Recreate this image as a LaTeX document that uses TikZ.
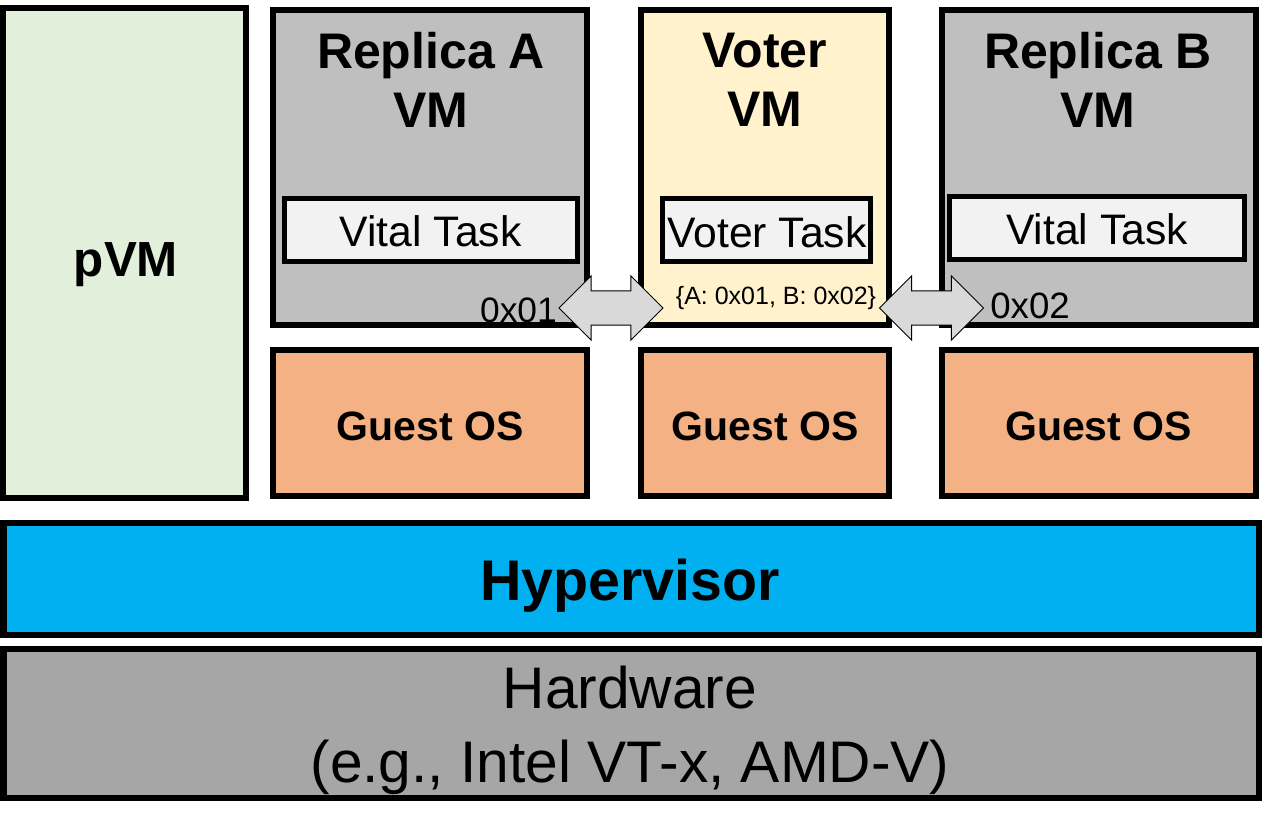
\documentclass[tikz,border=0pt]{standalone}
\usepackage{fontspec}
\setmainfont{Liberation Sans}
\usetikzlibrary{shapes.arrows}
\definecolor{pvmfill}{HTML}{E2EFDA}
\definecolor{vmfill}{HTML}{BFBFBF}
\definecolor{taskfill}{HTML}{F2F2F2}
\definecolor{voterfill}{HTML}{FFF2CC}
\definecolor{osfill}{HTML}{F4B183}
\definecolor{hvfill}{HTML}{00B0F0}
\definecolor{hwfill}{HTML}{A6A6A6}
\definecolor{arrowfill}{HTML}{D9D9D9}
\newcommand{\fs}[1]{\fontsize{#1}{1.2\dimexpr#1\relax}\selectfont}

\begin{document}
\begin{tikzpicture}[x=0.75pt, y=-0.75pt,
  layer/.style={draw, line width=4.5pt, inner sep=0pt},
  vmbox/.style={layer, fill=vmfill, minimum width=235.5pt, minimum height=236.25pt},
  osbox/.style={layer, fill=osfill, minimum height=109.5pt},
  taskbox/.style={layer, line width=3.75pt, fill=taskfill, minimum height=47.25pt},
  title/.style={align=center, font=\fontsize{37.5pt}{44pt}\selectfont\bfseries},
  tasktext/.style={anchor=base, font=\fs{32pt}},
  ostext/.style={anchor=base, font=\fs{30.75pt}\bfseries},
  link/.style={double arrow, draw, line width=0.75pt, fill=arrowfill, inner xsep=0pt,
    inner ysep=12.4pt, minimum height=78pt, double arrow head extend=11.25pt}
]
  \useasboundingbox (0,0) rectangle (1262,829);

  % Privileged VM
  \node[layer, fill=pvmfill, minimum width=181.9pt, minimum height=367.5pt] (pvm) at (124.75,253) {};
  \node[anchor=base, font=\fs{37pt}\bfseries] (pvmlbl) at (126,276) {pVM};

  % Guest VMs
  \node[vmbox] (repa) at (430,167.5) {};
  \node[vmbox, fill=voterfill, minimum width=186pt] (voter) at (765,167.5) {};
  \node[vmbox] (repb) at (1098.5,167.5) {};
  \node[title] (repalbl) at (431,80) {Replica A\\VM};
  \node[title] (voterlbl) at (765,80) {Voter\\VM};
  \node[title] (repblbl) at (1098,80) {Replica B\\VM};

  % Tasks
  \node[taskbox, minimum width=219.75pt] (taska) at (430.5,229.5) {};
  \node[taskbox, minimum width=156pt] (taskv) at (766,229.5) {};
  \node[taskbox, minimum width=221.25pt] (taskb) at (1096.5,227.5) {};
  \node[tasktext] at (430.5,246) {Vital Task};
  \node[tasktext] at (767,247) {Voter Task};
  \node[tasktext] at (1097,244) {Vital Task};

  % Guest OS
  \node[osbox, minimum width=235.5pt] (osa) at (430,423) {};
  \node[osbox, minimum width=186pt] (osv) at (765,423) {};
  \node[osbox, minimum width=235.5pt] (osb) at (1098.5,423) {};
  \node[ostext] at (430,440) {Guest OS};
  \node[ostext] at (765,440) {Guest OS};
  \node[ostext] at (1098.5,440) {Guest OS};

  % Hypervisor and hardware
  \node[layer, fill=hvfill, minimum width=941.25pt, minimum height=84pt] (hv) at (631,579) {};
  \node[anchor=base, font=\fs{43pt}\bfseries] at (630,600) {Hypervisor};
  \node[layer, fill=hwfill, minimum width=941.25pt, minimum height=111.75pt] (hw) at (631,723.5) {};
  \node[align=center, font=\fontsize{44pt}{55.5pt}\selectfont] at (630,730) {Hardware\\(e.g., Intel VT-x, AMD-V)};

  % Shared-memory links
  \node[link] (linka) at (611,308) {};
  \node[link] (linkb) at (931.5,308) {};
  \node[anchor=base east, font=\fs{26.5pt}, inner sep=0pt] at (557,322) {0x01};
  \node[anchor=base west, font=\fs{27.5pt}, inner sep=0pt] at (990,318) {0x02};
  \node[anchor=base, font=\fs{18.75pt}, inner sep=0pt] at (776,304) {\{A: 0x01, B: 0x02\}};
\end{tikzpicture}
\end{document}
